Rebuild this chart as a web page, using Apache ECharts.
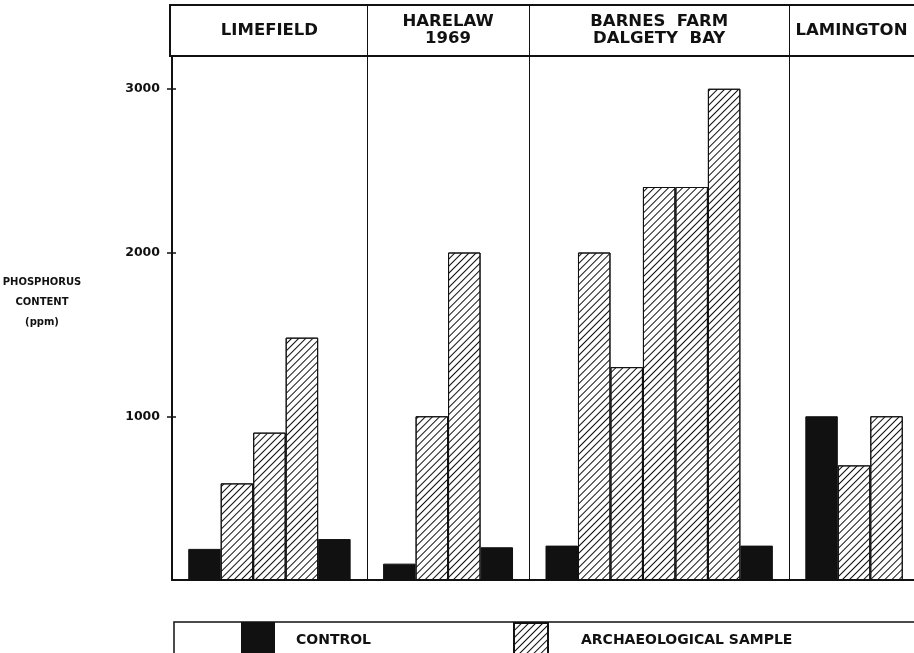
<!DOCTYPE html>
<html>
<head>
<meta charset="utf-8">
<script src="https://cdn.jsdelivr.net/npm/echarts@6/dist/echarts.min.js"></script>
<style>html,body{margin:0;padding:0;background:#fff;}#c{width:914px;height:653px;}</style>
</head>
<body>
<div id="c"></div>
<script>
// ---- data ----
const sites = ['LIMEFIELD', 'HARELAW\n1969', 'BARNES  FARM\nDALGETY  BAY', 'LAMINGTON'];
const limefieldType = ['C', 'A', 'A', 'A', 'C'];
const limefieldPpm  = [190, 590, 900, 1480, 250];
const harelawType = ['C', 'A', 'A', 'C'];
const harelawPpm  = [100, 1000, 2000, 200];
const barnesType = ['C', 'A', 'A', 'A', 'A', 'A', 'C'];
const barnesPpm  = [210, 2000, 1300, 2400, 2400, 3000, 210];
const lamingtonType = ['C', 'A', 'A'];
const lamingtonPpm  = [1000, 700, 1000];
const yTicks = [1000, 2000, 3000];
const yTitle = 'PHOSPHORUS\nCONTENT\n(ppm)';
const legendNames = ['CONTROL', 'ARCHAEOLOGICAL SAMPLE'];

// ---- layout helpers ----
const W = 914, GL = 172, GR = -5;
const X_MAX = 23;
const unitPx = (W - GL - GR) / X_MAX;
const groups = [
  [limefieldType, limefieldPpm],
  [harelawType, harelawPpm],
  [barnesType, barnesPpm],
  [lamingtonType, lamingtonPpm]
];
const controlData = [], archData = [], dividers = [], headerLabels = [];
let p = 0;
groups.forEach((g, gi) => {
  const [types, vals] = g;
  dividers.push(p);
  types.forEach((t, i) => {
    const pt = [p + 1 + i, vals[i]];
    (t === 'C' ? controlData : archData).push(pt);
  });
  const end = Math.min(p + types.length + 1, X_MAX - 0.16);
  headerLabels.push({ value: [(p + end) / 2, 0.5], name: sites[gi] });
  p += types.length + 1;
});

const FONT = 'DejaVu Sans';
const hatch = {
  symbol: 'rect', symbolSize: 1, rotation: -Math.PI / 4,
  color: '#111', dashArrayX: [[10, 0]], dashArrayY: [0.9, 3.5]
};

const chart = echarts.init(document.getElementById('c'), null, { renderer: 'canvas' });
chart.setOption({
  backgroundColor: '#fff',
  animation: false,
  title: {
    text: yTitle, left: 42, top: 272, textAlign: 'center', padding: 0,
    textStyle: { fontFamily: FONT, fontWeight: 'bold', fontSize: 10, color: '#111', lineHeight: 20 }
  },
  grid: [
    { left: GL, right: GR, top: 56, bottom: 73, show: false, outerBoundsMode: 'none', containLabel: false },
    { left: GL - 2, right: GR, top: 5, height: 51, show: true, borderColor: '#111', borderWidth: 2,
      outerBoundsMode: 'none', containLabel: false }
  ],
  xAxis: [
    { type: 'value', gridIndex: 0, min: 0, max: X_MAX, show: true,
      axisLine: { show: true, onZero: false, lineStyle: { color: '#111', width: 2 } },
      axisTick: { show: false }, axisLabel: { show: false }, splitLine: { show: false } },
    { type: 'value', gridIndex: 1, min: -2 / unitPx, max: X_MAX, show: false, splitLine: { show: false } }
  ],
  yAxis: [
    { type: 'value', gridIndex: 0, min: 0, max: 3200, interval: 1000,
      axisLine: { show: true, onZero: false, lineStyle: { color: '#111', width: 2 } },
      axisTick: { show: true, length: 5, customValues: yTicks, lineStyle: { color: '#111', width: 1.5 } },
      axisLabel: { margin: 12, fontFamily: FONT, fontWeight: 'bold', fontSize: 12.5, color: '#111',
        customValues: yTicks, formatter: v => yTicks.indexOf(v) >= 0 ? String(v) : '' },
      splitLine: { show: false } },
    { type: 'value', gridIndex: 1, min: 0, max: 1, show: false, splitLine: { show: false } },
    { type: 'value', gridIndex: 0, min: 0, max: 3200, interval: 1000, position: 'left',
      axisLine: { show: false, onZero: false },
      axisTick: { show: true, inside: true, length: 4, customValues: yTicks, lineStyle: { color: '#111', width: 1.5 } },
      axisLabel: { show: false }, splitLine: { show: false } }
  ],
  legend: [
    { data: [legendNames[0]], left: 241, top: 622, padding: 0, itemWidth: 32, itemHeight: 34, icon: 'rect',
      textStyle: { fontFamily: FONT, fontWeight: 'bold', fontSize: 14, color: '#111', padding: [0, 0, 0, 17] } },
    { data: [legendNames[1]], left: 513, top: 622, padding: 0, itemWidth: 34, itemHeight: 34, icon: 'rect',
      textStyle: { fontFamily: FONT, fontWeight: 'bold', fontSize: 14, color: '#111', padding: [0, 0, 0, 28] } }
  ],
  graphic: [
    { type: 'rect', shape: { x: 174, y: 622, width: 800, height: 60 },
      style: { fill: 'none', stroke: '#111', lineWidth: 1.5 }, silent: true }
  ],
  series: [
    { name: legendNames[0], type: 'bar', xAxisIndex: 0, yAxisIndex: 0,
      barWidth: unitPx, barGap: '-100%', data: controlData,
      itemStyle: { color: '#111', borderColor: '#111', borderWidth: 1 },
      markLine: { silent: true, symbol: 'none', label: { show: false },
        lineStyle: { color: '#111', width: 1, type: 'solid' },
        data: dividers.filter(d => d > 0).map(d => ({ xAxis: d })) } },
    { name: legendNames[1], type: 'bar', xAxisIndex: 0, yAxisIndex: 0,
      barWidth: unitPx, barGap: '-100%', data: archData,
      itemStyle: { color: '#fff', borderColor: '#111', borderWidth: 1, decal: hatch } },
    { type: 'scatter', xAxisIndex: 1, yAxisIndex: 1, symbolSize: 0, silent: true,
      itemStyle: { opacity: 1 },
      data: headerLabels,
      label: { show: true, position: 'inside', formatter: q => q.name, fontFamily: FONT,
        fontWeight: 'bold', fontSize: 16.5, lineHeight: 17, color: '#111', align: 'center' },
      markLine: { silent: true, symbol: 'none', label: { show: false },
        lineStyle: { color: '#111', width: 1, type: 'solid' },
        data: dividers.filter(d => d > 0).map(d => ({ xAxis: d })) } }
  ]
});
</script>
</body>
</html>
